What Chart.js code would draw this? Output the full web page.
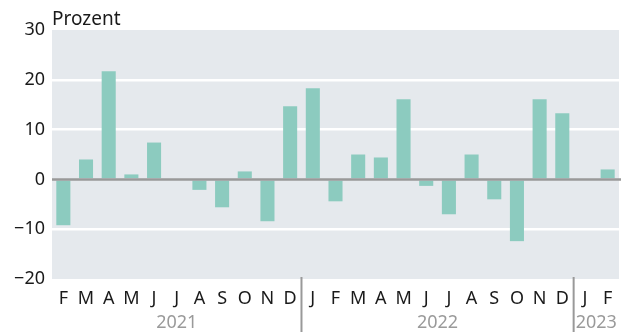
<!DOCTYPE html>
<html>
<head>
<meta charset="utf-8">
<script src="https://cdn.jsdelivr.net/npm/chart.js@4"></script>
<style>
  html, body { margin: 0; padding: 0; background: #fff; }
  #wrap { width: 635px; height: 332px; }
</style>
</head>
<body>
<div id="wrap"><canvas id="barChartCanvas"></canvas></div>
<script>
// monthly change, Feb 2021 - Feb 2023
let months = ['F', 'M', 'A', 'M', 'J', 'J', 'A', 'S', 'O', 'N', 'D',
              'J', 'F', 'M', 'A', 'M', 'J', 'J', 'A', 'S', 'O', 'N', 'D',
              'J', 'F'];
let values = [-9.2, 4.0, 21.7, 1.0, 7.4, 0, -2.1, -5.6, 1.6, -8.4, 14.7,
              18.3, -4.4, 5.0, 4.4, 16.1, -1.3, -7.0, 5.0, -4.0, -12.4, 16.1, 13.3,
              0, 2.0];
let years = ['2021', '2022', '2023'];
let yearStart = [0, 11, 23];   // index of first month in each year
let yTicks = [30, 20, 10, 0, -10, -20];

let fontFamily = '"Noto Sans", sans-serif';

let decor = {
    id: 'decor',
    beforeDraw(chart) {
        let ctx = chart.ctx, a = chart.chartArea;
        ctx.save();
        ctx.fillStyle = '#e5e9ed';
        ctx.fillRect(a.left, a.top, a.right - a.left, a.bottom - a.top);
        ctx.restore();
    },
    afterDatasetsDraw(chart) {
        let ctx = chart.ctx, a = chart.chartArea;
        let x = chart.scales.x, y = chart.scales.y;
        ctx.save();
        // zero line
        let y0 = y.getPixelForValue(0);
        ctx.strokeStyle = '#999';
        ctx.lineWidth = 2.5;
        ctx.beginPath();
        ctx.moveTo(a.left, y0);
        ctx.lineTo(a.right + 2, y0);
        ctx.stroke();

        // axis title
        ctx.fillStyle = '#1a1a1a';
        ctx.font = '19px ' + fontFamily;
        ctx.textAlign = 'left';
        ctx.textBaseline = 'alphabetic';
        ctx.fillText('Prozent', a.left, 25);

        // year separators and labels
        ctx.strokeStyle = '#999';
        ctx.lineWidth = 2;
        ctx.font = '18px ' + fontFamily;
        ctx.fillStyle = '#9a9a9a';
        ctx.textAlign = 'center';
        for (let i = 0; i < years.length; i++) {
            let first = yearStart[i];
            let last = (i + 1 < years.length ? yearStart[i + 1] : months.length) - 1;
            if (i > 0) {
                let sx = (x.getPixelForValue(first - 1) + x.getPixelForValue(first)) / 2;
                ctx.beginPath();
                ctx.moveTo(sx, a.bottom - 2);
                ctx.lineTo(sx, chart.height);
                ctx.stroke();
            }
            let cx = (x.getPixelForValue(first) + x.getPixelForValue(last)) / 2;
            ctx.fillText(years[i], cx, 328);
        }
        ctx.restore();
    }
};

let barCtx = document.getElementById('barChartCanvas').getContext('2d');

let barChart = new Chart(barCtx, {
    type: 'bar',
    data: {
        labels: months,
        datasets: [{
            label: 'Prozent',
            data: values,
            backgroundColor: '#8ccbbf',
            barPercentage: 0.62,
            categoryPercentage: 1
        }]
    },
    options: {
        responsive: true,
        maintainAspectRatio: false,
        animation: false,
        layout: { padding: { top: 30, right: 16, left: 0, bottom: 0 } },
        scales: {
            x: {
                grid: { display: false, drawTicks: false },
                border: { display: false },
                ticks: {
                    color: '#1a1a1a',
                    maxRotation: 0,
                    autoSkip: false,
                    padding: 9,
                    font: { family: fontFamily, size: 18 }
                },
                afterFit(scale) { scale.height = 53; }
            },
            y: {
                min: -20,
                max: 30,
                afterBuildTicks(scale) {
                    scale.ticks = yTicks.map(v => ({ value: v }));
                },
                grid: {
                    drawTicks: false,
                    lineWidth: 2.5,
                    color: ctx => (ctx.tick && (ctx.tick.value === 30 || ctx.tick.value === -20 || ctx.tick.value === 0)) ? 'rgba(0,0,0,0)' : '#fff'
                },
                border: { display: false },
                ticks: {
                    color: '#1a1a1a',
                    padding: 7,
                    font: { family: fontFamily, size: 18 },
                    callback: v => String(v).replace('-', '\u2212')
                },
                afterFit(scale) { scale.width = 52; }
            }
        },
        plugins: {
            legend: { display: false },
            tooltip: { enabled: false }
        }
    },
    plugins: [decor]
});
</script>
</body>
</html>
